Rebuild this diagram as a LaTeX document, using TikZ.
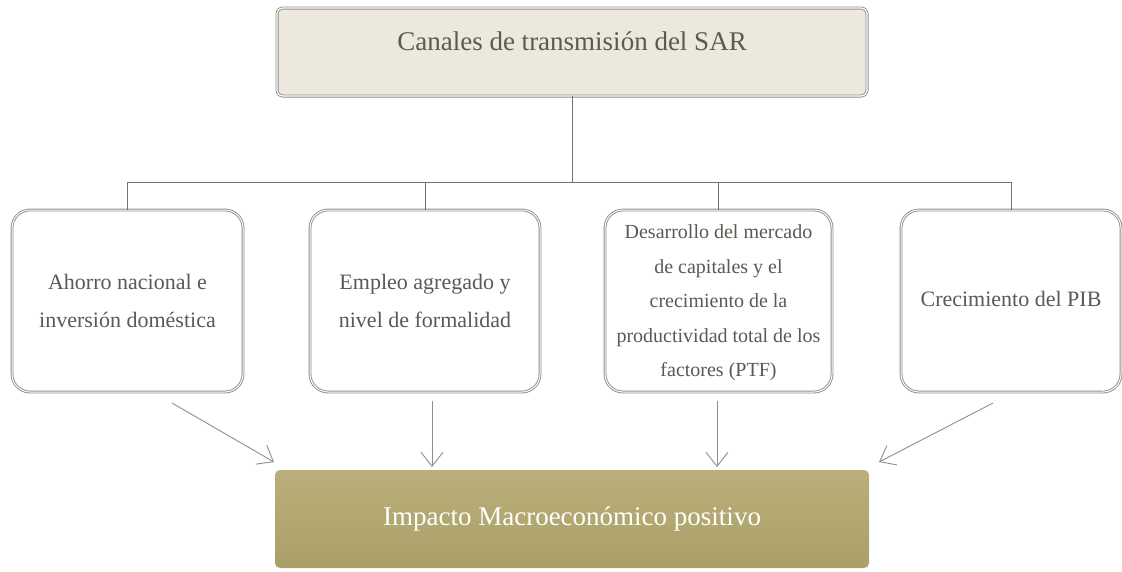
\documentclass[tikz,border=0pt]{standalone}
\usepackage{fontspec}
\setmainfont{Liberation Serif}
\usetikzlibrary{arrows.meta}
\definecolor{txt}{HTML}{5E5853}
\definecolor{topfill}{HTML}{ECE8DD}
\definecolor{olivetop}{HTML}{BAAE7A}
\definecolor{olivebot}{HTML}{AB9F69}
\definecolor{edge}{HTML}{8E8E8E}
\begin{document}
\begin{tikzpicture}[x=1pt,y=-1pt,
  titlebox/.style={draw=edge, line width=0.9pt, double=white, double distance=1.2pt,
     fill=topfill, rounded corners=6pt, minimum width=590pt, minimum height=88pt,
     inner sep=0pt, text=txt, font=\fontsize{27}{31}\selectfont},
  chanbox/.style={draw=edge, line width=0.9pt, double=white, double distance=1pt,
     fill=white, rounded corners=18pt, minimum height=182pt,
     inner sep=0pt, text=txt, align=center, font=\fontsize{22}{38}\selectfont},
  impactbox/.style={top color=olivetop, bottom color=olivebot, draw=none,
     rounded corners=5pt, minimum width=594pt, minimum height=98pt,
     text=white, font=\fontsize{27}{31}\selectfont},
  link/.style={draw=edge!80!black, line width=0.8pt},
  arr/.style={draw=edge, line width=0.9pt, -{Straight Barb[length=14pt,width=22pt]}}
]
\useasboundingbox (0,0) rectangle (1122,571);
\node[titlebox] (top) at (572,52) {\raisebox{21pt}{Canales de transmisión del SAR}};
\node[chanbox, minimum width=231pt] (b1) at (127.5,301) {\raisebox{10pt}{\begin{tabular}{@{}c@{}}Ahorro nacional e\\inversión doméstica\end{tabular}}};
\node[chanbox, minimum width=230pt] (b2) at (425,301) {\raisebox{11pt}{\begin{tabular}{@{}c@{}}Empleo agregado y\\nivel de formalidad\end{tabular}}};
\node[chanbox, minimum width=227pt, font=\fontsize{20}{34.5}\selectfont] (b3) at (718.5,301) {\raisebox{9pt}{\begin{tabular}{@{}c@{}}Desarrollo del mercado\\de capitales y el\\crecimiento de la\\productividad total de los\\factores (PTF)\end{tabular}}};
\node[chanbox, minimum width=220pt] (b4) at (1011,301) {\raisebox{5pt}{Crecimiento del PIB}};
\node[impactbox] (imp) at (572,519) {Impacto Macroeconómico positivo};
\coordinate (j) at (572,182);
\draw[link] (top.south) -- (j);
\draw[link] (b1.north) |- (j);
\draw[link] (b4.north) |- (j);
\draw[link] (b2.north) -- (b2.north |- j);
\draw[link] (b3.north) -- (b3.north |- j);
\coordinate (s1) at (172,403);
\coordinate (e1) at (274,462);
\coordinate (s2) at (432,401);
\coordinate (e2) at (432,467);
\coordinate (s3) at (717,401);
\coordinate (e3) at (717,467);
\coordinate (s4) at (993,403);
\coordinate (e4) at (879,462);
\draw[arr] (s1) -- (e1);
\draw[arr] (s2) -- (e2);
\draw[arr] (s3) -- (e3);
\draw[arr] (s4) -- (e4);
\end{tikzpicture}
\end{document}
